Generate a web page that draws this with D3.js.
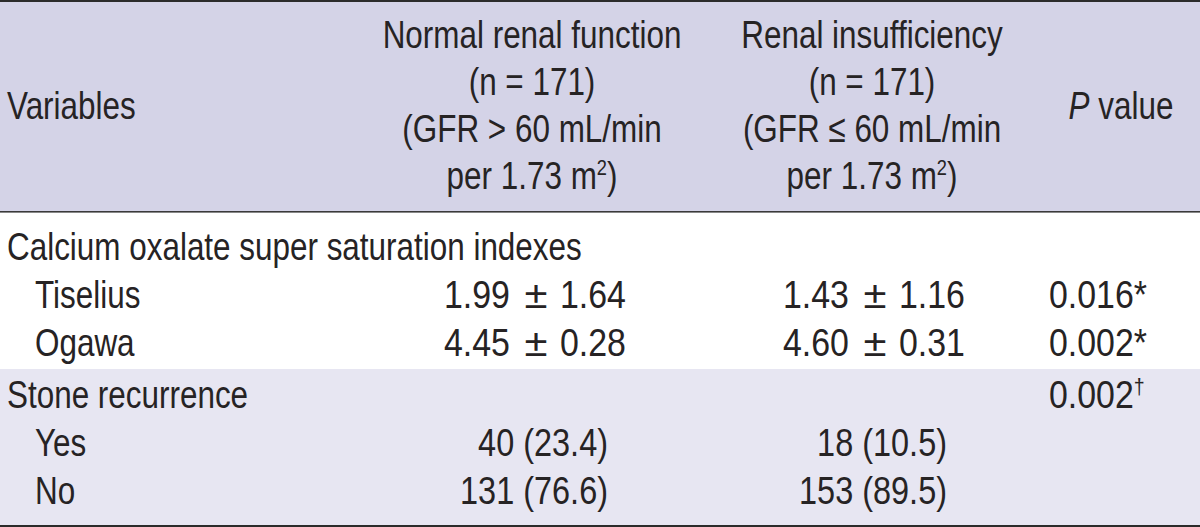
<!DOCTYPE html>
<html><head><meta charset="utf-8">
<script src="https://cdn.jsdelivr.net/npm/d3@7"></script>
<style>html,body{margin:0;padding:0;background:#fff;overflow:hidden}</style>
</head><body>
<svg id="c" width="1200" height="527"></svg>
<script>
// ---- data ----
const headerVariables = "Variables";
const headerNormal = ["Normal renal function", "(n = 171)", "(GFR > 60 mL/min", "per 1.73 m^2)"];
const headerRenal = ["Renal insufficiency", "(n = 171)", "(GFR \u2264 60 mL/min", "per 1.73 m^2)"];
const headerP = "P value";
const sectionLabels = ["Calcium oxalate super saturation indexes", "Stone recurrence"];
const indexLabels = ["Tiselius", "Ogawa"];
const normalMean = ["1.99", "4.45"];
const normalSD = ["1.64", "0.28"];
const renalMean = ["1.43", "4.60"];
const renalSD = ["1.16", "0.31"];
const indexP = ["0.016*", "0.002*"];
const recurrenceLabels = ["Yes", "No"];
const normalCount = [40, 131];
const normalPct = ["23.4", "76.6"];
const renalCount = [18, 153];
const renalPct = ["10.5", "89.5"];
const recurrenceP = "0.002^\u2020";

// ---- layout ----
const W = 1200, H = 527;
const FONT = "'Liberation Sans Narrow','Liberation Sans',Arial,sans-serif";
const FS = 39;
const INK = "#262324";
const svg = d3.select("#c");

const x = d3.scaleOrdinal()
  .domain(["label","indent","nCenter","rCenter","pCenter","nPm","rPm","nCnt","rCnt","p"])
  .range([7, 35, 532, 872, 1121, 444, 783, 608, 947, 1049]);
const pmSign = 92, pmSD = 116;
const yHead = d3.scaleLinear().domain([0, 1]).range([48, 95]);
const yRow = i => d3.scaleLinear().domain([0, 1]).range([260, 308])(i) + (i >= 3 ? 4 : 0);

// calibration of horizontal condensing
function measure(str) {
  const t = svg.append("text").style("font-family", FONT).style("font-size", FS + "px").text(str);
  const w = t.node().getComputedTextLength();
  t.remove();
  return w;
}
const kText = 575 / measure(sectionLabels[0]);
const kNum = 148 / measure("131 (76.6)");
const kPmNum = 66 / measure("1.99");
const kP = 98 / measure("0.016*");
const kSign = 23 / measure("\u00b1");

// backgrounds
svg.append("rect").attr("x", 0).attr("y", 0).attr("width", W).attr("height", 212).attr("fill", "#d4d3e7");
svg.append("rect").attr("x", 0).attr("y", 212).attr("width", W).attr("height", 157).attr("fill", "#ffffff");
svg.append("rect").attr("x", 0).attr("y", 369).attr("width", W).attr("height", 156).attr("fill", "#e7e6f2");
// rules
svg.append("rect").attr("x", 0).attr("y", 0).attr("width", W).attr("height", 2).attr("fill", "#2b2b2b");
svg.append("rect").attr("x", 0).attr("y", 211).attr("width", W).attr("height", 1.6).attr("fill", "#3a3a3a");
svg.append("rect").attr("x", 0).attr("y", 525).attr("width", W).attr("height", 2).attr("fill", "#2b2b2b");

function draw(xp, yp, str, anchor, k, opts = {}) {
  const g = svg.append("g").attr("transform", `translate(${xp},${yp}) scale(${k},1)`);
  const t = g.append("text").attr("text-anchor", anchor)
    .style("font-family", FONT).style("font-size", FS + "px").attr("fill", INK);
  const parts = str.split(/\^(.)/);
  let reset = 0;
  parts.forEach((p, i) => {
    if (p === "") return;
    if (i % 2 === 1) {
      t.append("tspan").attr("dy", -14).style("font-size", (FS * 0.58) + "px").text(p);
      reset = 14;
    } else if (opts.italicFirst && i === 0) {
      t.append("tspan").style("font-style", "italic").text(p[0]);
      t.append("tspan").text(p.slice(1));
    } else {
      const ts = t.append("tspan").text(p);
      if (reset) { ts.attr("dy", reset); reset = 0; }
    }
  });
  return g;
}
function drawPm(x0, yy, mean, sd) {
  draw(x0, yy, mean, "start", kPmNum);
  draw(x0 + pmSign, yy, "\u00b1", "middle", kSign);
  draw(x0 + pmSD, yy, sd, "start", kPmNum);
}

// header
draw(x("label"), 119, headerVariables, "start", kText);
headerNormal.forEach((s, i) => draw(x("nCenter"), yHead(i), s, "middle", kText));
headerRenal.forEach((s, i) => draw(x("rCenter"), yHead(i), s, "middle", kText));
draw(x("pCenter"), 119, headerP, "middle", kText, { italicFirst: true });

// section 1
draw(x("label"), yRow(0), sectionLabels[0], "start", kText);
indexLabels.forEach((s, i) => {
  const yy = yRow(i + 1);
  draw(x("indent"), yy, s, "start", kText);
  drawPm(x("nPm"), yy, normalMean[i], normalSD[i]);
  drawPm(x("rPm"), yy, renalMean[i], renalSD[i]);
  draw(x("p"), yy, indexP[i], "start", kP);
});

// section 2
draw(x("label"), yRow(3), sectionLabels[1], "start", kText);
draw(x("p"), yRow(3), recurrenceP, "start", kP);
recurrenceLabels.forEach((s, i) => {
  const yy = yRow(i + 4);
  draw(x("indent"), yy, s, "start", kText);
  draw(x("nCnt"), yy, `${normalCount[i]} (${normalPct[i]})`, "end", kNum);
  draw(x("rCnt"), yy, `${renalCount[i]} (${renalPct[i]})`, "end", kNum);
});
</script>
</body></html>
